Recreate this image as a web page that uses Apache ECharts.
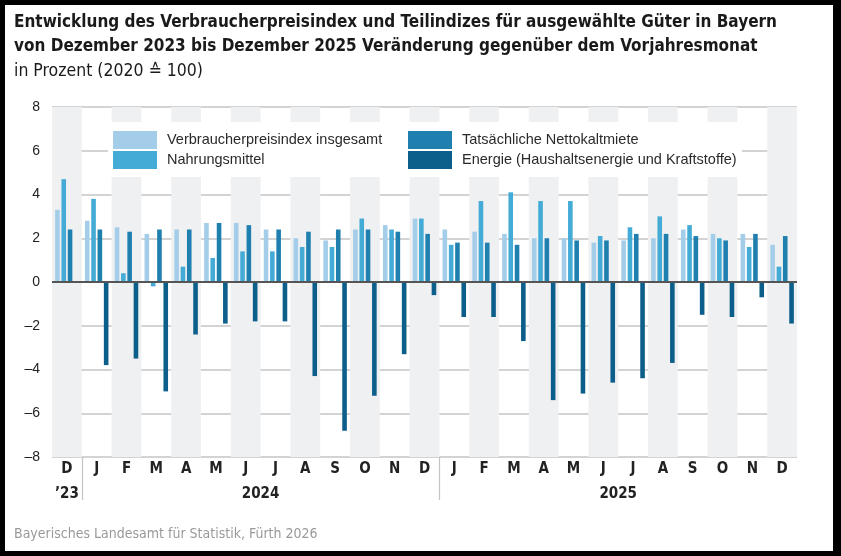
<!DOCTYPE html>
<html><head><meta charset="utf-8">
<script src="https://cdn.jsdelivr.net/npm/echarts@6/dist/echarts.min.js"></script>
<style>
html,body{margin:0;padding:0;background:#000;width:841px;height:556px;overflow:hidden}
#c{position:absolute;left:5px;top:5px;width:828px;height:546px;background:#fff}
</style></head><body><div id="c"></div>
<script>
// ---- data ----
const months = ['D','J','F','M','A','M','J','J','A','S','O','N','D','J','F','M','A','M','J','J','A','S','O','N','D'];
const yearLabels = ['\u201923','2024','2025'];
const yearSpans = [1, 12, 12];
const seriesNames = ['Verbraucherpreisindex insgesamt','Nahrungsmittel','Tatsächliche Nettokaltmiete','Energie (Haushaltsenergie und Kraftstoffe)'];
const vpi     = [3.3, 2.8, 2.5, 2.2, 2.4, 2.7, 2.7, 2.4, 2.0, 1.9, 2.4, 2.6, 2.9, 2.4, 2.3, 2.2, 2.0, 2.0, 1.8, 1.9, 2.0, 2.4, 2.2, 2.2, 1.7];
const nahrung = [4.7, 3.8, 0.4, -0.2, 0.7, 1.1, 1.4, 1.4, 1.6, 1.6, 2.9, 2.4, 2.9, 1.7, 3.7, 4.1, 3.7, 3.7, 2.1, 2.5, 3.0, 2.6, 2.0, 1.6, 0.7];
const miete   = [2.4, 2.4, 2.3, 2.4, 2.4, 2.7, 2.6, 2.4, 2.3, 2.4, 2.4, 2.3, 2.2, 1.8, 1.8, 1.7, 2.0, 1.9, 1.9, 2.2, 2.2, 2.1, 1.9, 2.2, 2.1];
const energie = [0.0, -3.8, -3.5, -5.0, -2.4, -1.9, -1.8, -1.8, -4.3, -6.8, -5.2, -3.3, -0.6, -1.6, -1.6, -2.7, -5.4, -5.1, -4.6, -4.4, -3.7, -1.5, -1.6, -0.7, -1.9];
const yTicks = {min: -8, max: 8, interval: 2};

// ---- derived ----
const sepIdx = [];
const yearCenters = [];
let acc = 0;
yearSpans.forEach((s, i) => { yearCenters.push(acc + s / 2); acc += s; if (i < yearSpans.length - 1) sepIdx.push(acc); });

const NARROW = "'Liberation Sans Narrow','DejaVu Sans Condensed','Arial Narrow',sans-serif";
const SANS = "'Liberation Sans',Arial,sans-serif";
const colors = ['#a4cde9', '#43abd6', '#1f80b0', '#0c5e8b'];

const chart = echarts.init(document.getElementById('c'), null, {renderer: 'canvas'});
const mk = (i, data, extra) => Object.assign({
  name: seriesNames[i], type: 'bar', data: data, barWidth: 4.6, barGap: '37%',
  itemStyle: {color: colors[i]}, emphasis: {disabled: true}, silent: true
}, extra || {});

const legendCommon = {
  orient: 'vertical', top: 126, itemWidth: 44, itemHeight: 18, itemGap: 2, padding: 0,
  icon: 'rect', selectedMode: false, z: 5,
  textStyle: {fontFamily: SANS, fontSize: 14.5, color: '#2a2a2a', padding: [0, 0, 0, 5]}
};

const option = {
  animation: false,
  title: [
    {text: 'Entwicklung des Verbraucherpreisindex und Teilindizes für ausgewählte Güter in Bayern\nvon Dezember 2023 bis Dezember 2025 Veränderung gegenüber dem Vorjahresmonat',
     left: 9, top: 6, padding: 0,
     textStyle: {fontFamily: NARROW, fontSize: 17, fontWeight: 'bold', color: '#1a1a1a', lineHeight: 24}},
    {text: 'in Prozent (2020 \u2259 100)', left: 9, top: 54, padding: 0,
     textStyle: {fontFamily: NARROW, fontSize: 17.5, fontWeight: 'normal', color: '#1a1a1a', lineHeight: 24}},
    {text: 'Bayerisches Landesamt für Statistik, Fürth 2026', left: 9, top: 522, padding: 0,
     textStyle: {fontFamily: NARROW, fontSize: 14, fontWeight: 'normal', color: '#9a9a9a'}}
  ],
  grid: {left: 47, right: 36, top: 102, bottom: 94},
  legend: [
    Object.assign({}, legendCommon, {left: 108, data: [seriesNames[0], seriesNames[1]]}),
    Object.assign({}, legendCommon, {left: 403, data: [seriesNames[2], seriesNames[3]]})
  ],
  graphic: [{type: 'rect', left: 103, top: 117, z: 1, silent: true,
             shape: {width: 634, height: 55}, style: {fill: '#ffffff'}}],
  xAxis: [
    {type: 'category', data: months,
     axisLine: {show: false, onZero: false},
     axisTick: {show: false},
     axisLabel: {interval: 0, margin: 5, fontFamily: NARROW, fontSize: 15, fontWeight: 'bold', color: '#222'},
     splitArea: {show: true, interval: 0, areaStyle: {color: ['#eff0f2', 'rgba(255,255,255,0)']}},
     splitLine: {show: false}},
    {type: 'value', min: 0, max: months.length, position: 'bottom', offset: 28,
     axisLine: {show: false, onZero: false}, axisTick: {show: false}, splitLine: {show: false},
     axisLabel: {customValues: yearCenters, margin: 2, fontFamily: NARROW, fontSize: 15, fontWeight: 'bold', color: '#222',
       formatter: (v) => { const k = yearCenters.findIndex(c => Math.abs(c - v) < 1e-6); return k >= 0 ? yearLabels[k] : ''; }}},
    {type: 'value', min: 0, max: months.length, position: 'bottom', offset: 0,
     axisLine: {show: false, onZero: false}, splitLine: {show: false},
     axisLabel: {show: false},
     axisTick: {show: true, customValues: sepIdx, length: 43, lineStyle: {color: '#c4c4c4', width: 1.2}}}
  ],
  yAxis: {type: 'value', min: yTicks.min, max: yTicks.max, interval: yTicks.interval,
    axisLine: {show: false}, axisTick: {show: false},
    axisLabel: {margin: 12, fontFamily: SANS, fontSize: 14, color: '#222',
      formatter: (v) => String(v).replace('-', '\u2013')},
    splitLine: {lineStyle: {color: '#c4c4c4', width: 1.5}}},
  series: [
    mk(0, vpi), mk(1, nahrung), mk(2, miete),
    mk(3, energie, {markLine: {silent: true, symbol: 'none', label: {show: false},
      lineStyle: {color: '#555', width: 2, type: 'solid'}, emphasis: {disabled: true}, data: [{yAxis: 0}]}})
  ]
};
chart.setOption(option);
</script></body></html>
